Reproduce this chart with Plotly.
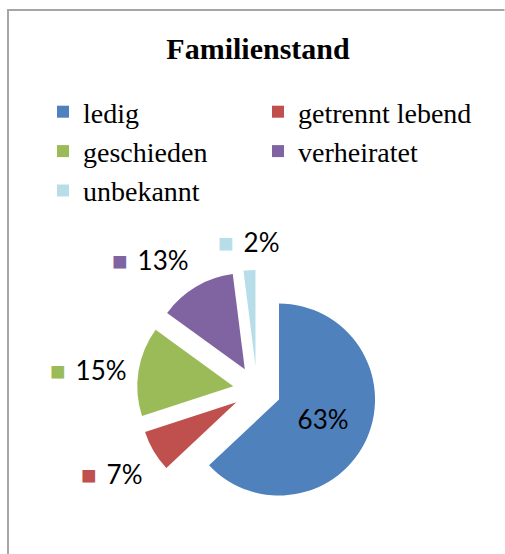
import math
import plotly.graph_objects as go

# ---- data ----
categories = ["ledig", "getrennt lebend", "geschieden", "verheiratet", "unbekannt"]
values = [63, 7, 15, 13, 2]
colors = ["#4F81BD", "#C0504D", "#9BBB59", "#8064A2", "#B7DEE8"]
title_text = "Familienstand"

# ---- layout constants (pixels) ----
W, H = 505, 554
PULL = 0.25
CX, CY = 257, 390          # pie centre
DOM_HALF = 120             # half size of pie domain box
R = DOM_HALF / (1 + PULL)  # plotly pie radius

dom_x = [(CX - DOM_HALF) / W, (CX + DOM_HALF) / W]
dom_y = [1 - (CY + DOM_HALF) / H, 1 - (CY - DOM_HALF) / H]

total = sum(values)
textpos = ["inside"] + ["none"] * (len(values) - 1)

fig = go.Figure()
fig.add_trace(go.Pie(
    labels=categories,
    values=values,
    marker=dict(colors=colors, line=dict(width=0)),
    sort=False,
    direction="clockwise",
    rotation=0,
    pull=[PULL] * len(values),
    domain=dict(x=dom_x, y=dom_y),
    textposition=textpos,
    texttemplate="%{percent:.0%}",
    insidetextorientation="horizontal",
    insidetextfont=dict(family="Lato", size=26, color="#000000"),
    hoverinfo="label+percent",
    showlegend=True,
))

# outside data labels (computed from the values)
annotations = []
cum = 0
for i, v in enumerate(values):
    mid = (cum + v / 2) / total * 2 * math.pi
    cum += v
    if i == 0:
        continue
    dx, dy = math.sin(mid), -math.cos(mid)  # screen direction (y down)
    rr = R * (1 + PULL) + 10
    px, py = CX + rr * dx, CY + rr * dy
    xa = "right" if dx < -0.3 else ("left" if dx > 0.3 else "center")
    ya = "top" if dy > 0.3 else ("bottom" if dy < -0.3 else "middle")
    pct = round(v / total * 100)
    annotations.append(dict(
        x=px / W, y=1 - py / H, xref="paper", yref="paper",
        xanchor=xa, yanchor=ya, showarrow=False,
        text=f"<span style='color:{colors[i]}'>■</span>\u00a0\u2009{pct}%",
        font=dict(family="Lato", size=26, color="#000000"),
    ))

# chart frame (top and left edges visible in the reference)
frame_x0, frame_y0 = 8 / W, 1 - 10 / H
annotations.append(dict(
    x=frame_x0, y=frame_y0, xref="paper", yref="paper", xanchor="left", yanchor="top",
    showarrow=False, text="", width=1, height=1,
))

fig.update_layout(
    width=W, height=H,
    margin=dict(l=0, r=0, t=0, b=0),
    paper_bgcolor="white",
    plot_bgcolor="white",
    title=dict(text=f"<b>{title_text}</b>", x=258 / W, y=1 - 48 / H,
               xanchor="center", yanchor="middle",
               font=dict(family="Liberation Serif", size=30, color="#000000")),
    legend=dict(orientation="h", x=43 / W, y=1 - 87 / H, xanchor="left", yanchor="top",
                entrywidth=170, entrywidthmode="pixels",
                font=dict(family="Liberation Serif", size=28, color="#000000"),
                traceorder="normal"),
    annotations=annotations[:-1],
    shapes=[
        dict(type="path", xref="paper", yref="paper", layer="above",
             path=f"M {frame_x0},0 L {frame_x0},{frame_y0} L 0.999,{frame_y0}",
             line=dict(color="#A6A6A6", width=2)),
    ],
)

fig.write_html("out.html", config={"displayModeBar": False})
